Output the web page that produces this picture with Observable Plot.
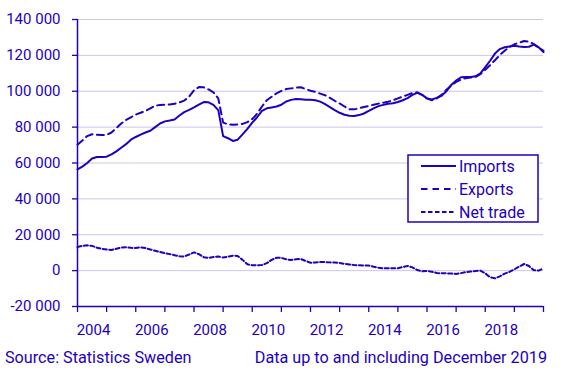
<!DOCTYPE html>
<html><head><meta charset="utf-8">
<script src="https://cdn.jsdelivr.net/npm/d3@7"></script>
<script src="https://cdn.jsdelivr.net/npm/@observablehq/plot@0.6"></script>
<style>
body{margin:0;background:#fff;}
#wrap{position:relative;width:568px;height:374px;font-family:Roboto,sans-serif;color:#1e00be;background:#fff;}
#caption{position:absolute;left:5px;right:21px;top:348px;display:flex;justify-content:space-between;font-size:16.2px;line-height:20px;}
</style></head><body>
<div id="wrap"><div id="chart"></div><div id="caption"><span>Source: Statistics Sweden</span><span>Data up to and including December 2019</span></div></div>
<script>
// bimonthly periods, Jan 2004 .. Jan 2020 (decimal years)
const periods = d3.range(97).map(i => 2004 + i / 6);

const imports = [
 56500,58000,60000,62500,63300,63400,
 63500,64800,66500,68500,70500,73000,
 74500,75800,77000,78000,80000,82000,
 83200,83700,84300,86500,88400,89600,
 91000,92500,94000,93800,92400,89500,
 75000,73800,72300,73000,76000,79000,
 82500,85500,89000,90500,91000,91500,
 92500,94300,95200,95700,95500,95300,
 95200,95000,94200,92800,91200,89500,
 88000,86900,86300,86200,86700,87600,
 89000,90500,91700,92400,93000,93300,
 94000,95000,96200,98000,99100,98000,
 96000,95400,96300,97500,100000,103500,
 106000,107800,108000,107900,108300,110000,
 113500,117000,121000,123500,124500,125000,
 125400,125000,124700,124800,126000,124500,
 121800];

const exports = [
 70200,72500,75000,76000,75800,75600,
 75700,77000,79500,82000,84000,85500,
 87000,88000,89000,90500,92000,92300,
 92500,92600,93000,93800,94800,97000,
 100500,102300,102200,101000,99400,96000,
 82500,81500,81300,81500,81800,82800,
 84500,87500,91500,95000,97000,98800,
 100200,101200,101600,102000,102200,101200,
 100300,99600,98700,97800,96300,94700,
 93200,91500,90000,89900,90500,91200,
 91800,92500,93100,93600,94200,95000,
 96000,97000,98000,99000,99400,98000,
 96000,95000,96000,98000,100800,103200,
 105200,106500,107300,107600,108000,109500,
 112000,114500,117300,120200,122600,124700,
 126200,127000,128000,127700,126300,124500,
 122500];

const netTrade = [
 13200,13800,14100,13800,12800,12100,
 11800,11500,12200,12900,13000,12700,
 12600,13000,12600,11800,11100,10400,
 9700,9200,8600,8000,7900,9000,
 10200,9200,7500,7100,7600,7900,
 7300,7800,8300,8200,6000,3500,
 3000,3000,3100,4200,6000,7200,
 7100,6300,5900,6300,6500,5400,
 4400,4500,4800,4800,4600,4500,
 4300,3800,3400,3100,3000,2900,
 2800,2200,1600,1300,1300,1300,
 1300,2000,2600,1800,300,-400,
 -200,-600,-1300,-1500,-1500,-1600,
 -1900,-1400,-800,-500,-200,0,
 -1500,-3700,-4300,-3200,-1700,-700,
 700,2300,3700,2600,200,0,
 1300];

const yTicks = [-20000,0,20000,40000,60000,80000,100000,120000,140000];
const yearTicks = [2004,2005,2006,2007,2008,2009,2010,2011,2012,2013,2014,2015,2016,2017,2018,2019,2020];
const yearLabels = ["2004","2006","2008","2010","2012","2014","2016","2018"];
const seriesNames = ["Imports","Exports","Net trade"];

const C = "#1e00be", GRID = "#c9c6ef";
const fmt = d3.formatLocale({decimal:",", thousands:" ", grouping:[3], currency:["",""], minus:"-"}).format(",");
const toRows = arr => arr.map((v, i) => ({t: periods[i], v}));

const plot = Plot.plot({
  width: 568, height: 342,
  marginLeft: 77, marginRight: 25, marginTop: 19, marginBottom: 36,
  style: {fontFamily: "Roboto, sans-serif", fontSize: "15px", color: C, background: "#fff"},
  x: {domain: [2004, 2020]},
  y: {domain: [-20000, 140000]},
  marks: [
    Plot.gridY(yTicks, {stroke: GRID, strokeOpacity: 1, strokeWidth: 1}),
    Plot.axisY(yTicks, {tickSize: 5, tickPadding: 12, tickFormat: fmt, stroke: C, fill: C, label: null, strokeWidth: 1.3}),
    Plot.axisX(yearTicks, {tickSize: 6, tickFormat: () => "", stroke: C, label: null, strokeWidth: 1.3}),
    Plot.axisX(yearLabels.map(d => +d + 0.55), {tickSize: 0, tickPadding: 18, tickFormat: d => String(Math.floor(d)), fill: C, label: null}),
    Plot.ruleX([2004], {stroke: C, strokeWidth: 1.5}),
    Plot.ruleY([-20000], {stroke: C, strokeWidth: 1.5}),
    Plot.line(toRows(netTrade), {x: "t", y: "v", stroke: C, strokeWidth: 2, strokeDasharray: "4,2.5"}),
    Plot.line(toRows(exports), {x: "t", y: "v", stroke: C, strokeWidth: 2, strokeDasharray: "7,4.5"}),
    Plot.line(toRows(imports), {x: "t", y: "v", stroke: C, strokeWidth: 2})
  ]
});
document.getElementById("chart").appendChild(plot);

// legend
const svg = d3.select(plot);
const lg = svg.append("g").attr("text-anchor", "start");
lg.append("rect").attr("x", 408).attr("y", 155).attr("width", 130).attr("height", 67)
  .attr("fill", "#fff").attr("stroke", C).attr("stroke-width", 1.5);
const dashes = [null, "6.5,5", "4.5,2.5"];
const ys = [166, 189, 212];
seriesNames.forEach((name, i) => {
  lg.append("line").attr("x1", 421).attr("x2", 456).attr("y1", ys[i]).attr("y2", ys[i])
    .attr("stroke", C).attr("stroke-width", 2).attr("stroke-dasharray", dashes[i]);
  lg.append("text").attr("x", 459).attr("y", ys[i]).attr("dy", "0.36em").attr("text-anchor", "start")
    .attr("fill", C).style("font-size", "16px").style("font-family", "Roboto, sans-serif").text(name);
});
</script>
</body></html>
